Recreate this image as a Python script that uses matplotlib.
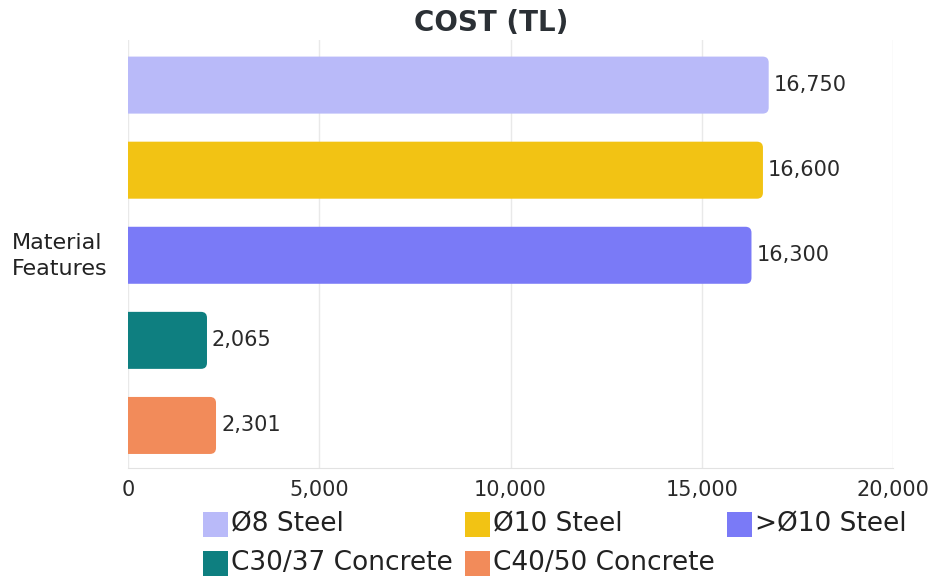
import matplotlib
matplotlib.use('Agg')
import matplotlib.pyplot as plt
from matplotlib.patches import FancyBboxPatch, Rectangle
from matplotlib.ticker import FuncFormatter

# cost per material type
materials = ['Ø8 Steel', 'Ø10 Steel', '>Ø10 Steel', 'C30/37 Concrete', 'C40/50 Concrete']
costs = [16750, 16600, 16300, 2065, 2301]
colors = ['#b9baf9', '#f2c314', '#7a7af7', '#0e7f80', '#f28b5a']
xticks = [0, 5000, 10000, 15000, 20000]

plt.rcParams['font.family'] = ['DejaVu Sans']

W, H = 935, 582
fig = plt.figure(figsize=(W / 100, H / 100), dpi=100)
ax = fig.add_axes([128 / W, 1 - 468 / H, 765 / W, 428 / H])

ypos = list(range(len(materials)))
bars = ax.barh(ypos, costs, height=0.67, color=colors)

ax.set_xlim(0, 20000)
ax.set_ylim(4.5, -0.53)

# px -> data units, for the rounded bar ends
xr = 20000 / 765.0
yr = 5.03 / 428.0
rad = 6
for b, c in zip(bars, colors):
    x0, y0 = b.get_x(), b.get_y()
    w, h = b.get_width(), b.get_height()
    b.set_visible(False)
    r = rad * xr
    p = FancyBboxPatch((x0 - 400, y0), w + 400, h,
                       boxstyle='round,pad=0,rounding_size=%f' % r,
                       mutation_aspect=yr / xr,
                       facecolor=c, edgecolor='none', zorder=3)
    ax.add_patch(p)
    ax.text(w + 5 * xr, y0 + h / 2, '{:,}'.format(w), va='center', ha='left',
            fontsize=15, color='#2a2a2a', zorder=4)

ax.set_xticks(xticks)
ax.xaxis.set_major_formatter(FuncFormatter(lambda v, p: '{:,}'.format(int(v))))
ax.tick_params(axis='x', length=0, labelsize=15, labelcolor='#2a2a2a', pad=9)
ax.set_yticks([])
ax.grid(axis='x', color='#e9e9e9', linewidth=1, zorder=0)
for s in ['top', 'right', 'left']:
    ax.spines[s].set_visible(False)
ax.spines['bottom'].set_color('#e2e2e2')

fig.text(491 / W, 1 - 23 / H, 'COST (TL)', ha='center', va='center',
         fontsize=20, fontweight='bold', color='#2b3035')
fig.text(12 / W, 1 - 256 / H, 'Material\nFeatures', ha='left', va='center',
         fontsize=16, color='#222222', linespacing=1.4)

# legend, laid out row by row
leg_x = [203, 465, 727]
leg_y = [524, 563]
for i, (m, c) in enumerate(zip(materials, colors)):
    lx = leg_x[i % 3]
    ly = leg_y[i // 3]
    fig.patches.append(Rectangle((lx / W, 1 - (ly + 12.5) / H), 25 / W, 25 / H,
                                 transform=fig.transFigure, facecolor=c,
                                 edgecolor='none'))
    fig.text((lx + 28) / W, 1 - ly / H, m, ha='left', va='center',
             fontsize=19, color='#222222')

plt.savefig('out.png', dpi=100)
